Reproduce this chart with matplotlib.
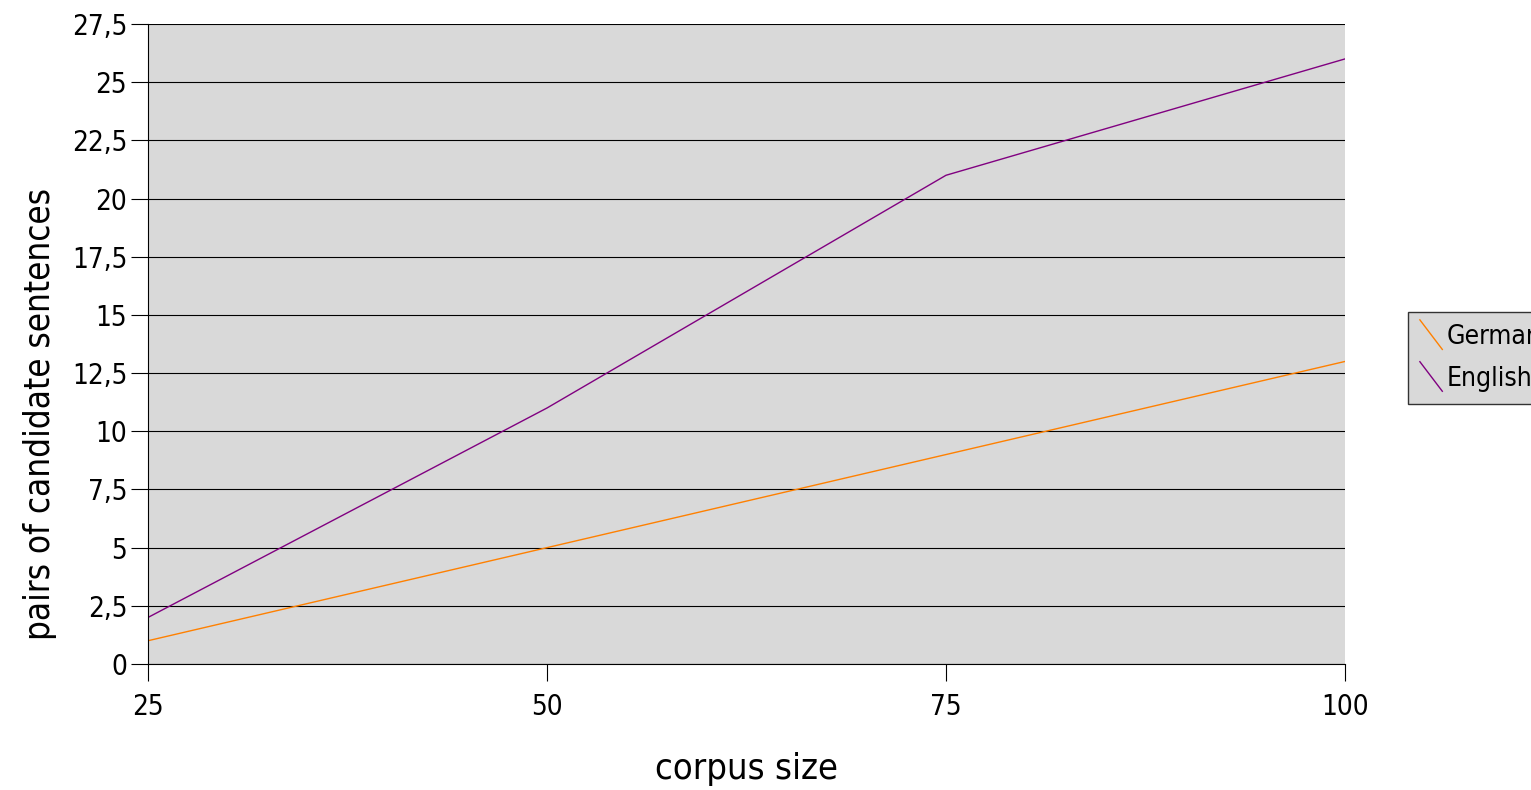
import matplotlib
matplotlib.use("Agg")
import matplotlib.pyplot as plt
from matplotlib.lines import Line2D
from matplotlib.ticker import FuncFormatter

corpus_size = [25, 50, 75, 100]
german = [1, 5, 9, 13]
english = [2, 11, 21, 26]
y_ticks = [0, 2.5, 5, 7.5, 10, 12.5, 15, 17.5, 20, 22.5, 25, 27.5]

plt.rcParams['font.family'] = 'DejaVu Sans'
plt.rcParams['font.stretch'] = 'condensed'


class DiagonalHandler:
    # legend key drawn as a diagonal stroke, like office charts do
    def legend_artist(self, legend, orig_handle, fontsize, handlebox):
        x0, y0 = handlebox.xdescent, handlebox.ydescent
        w, h = handlebox.width, handlebox.height
        line = Line2D([x0, x0 + w], [y0 + h * 1.3, y0 - h * 0.3],
                      color=orig_handle.get_color(), lw=1.0)
        handlebox.add_artist(line)
        return line


fig = plt.figure(figsize=(15.31, 7.90), dpi=100)
ax = fig.add_axes([148 / 1531, 126 / 790, 1197 / 1531, 640 / 790])
ax.set_facecolor('#d9d9d9')

l_de, = ax.plot(corpus_size, german, color='#ff8000', lw=1.0, label='German')
l_en, = ax.plot(corpus_size, english, color='#800080', lw=1.0, label='English')

ax.set_xlim(25, 100)
ax.set_ylim(0, 27.5)
ax.set_xticks(corpus_size)
ax.set_yticks(y_ticks)
ax.yaxis.set_major_formatter(FuncFormatter(lambda v, p: ('%g' % v).replace('.', ',')))
ax.grid(axis='y', color='black', lw=0.8)
ax.set_axisbelow(True)
for s in ['top', 'right']:
    ax.spines[s].set_visible(False)
ax.spines['left'].set_linewidth(0.8)
ax.spines['bottom'].set_linewidth(0.8)
ax.tick_params(axis='both', labelsize=20, length=12, width=0.8, direction='out')
ax.tick_params(axis='x', pad=9)
ax.tick_params(axis='y', pad=3)

ax.set_xlabel('corpus size', fontsize=26, labelpad=22)
ax.set_ylabel('pairs of candidate sentences', fontsize=25)
ax.yaxis.set_label_coords(-0.076, 0.39)

leg = fig.legend(handles=[l_de, l_en], loc='upper left',
                 bbox_to_anchor=(1408 / 1531, 1 - 312 / 790),
                 handler_map={Line2D: DiagonalHandler()},
                 fontsize=19, frameon=True, fancybox=False,
                 handlelength=0.85, handletextpad=0.15, borderpad=0.45,
                 labelspacing=0.6, borderaxespad=0)
leg.get_frame().set_facecolor('#d9d9d9')
leg.get_frame().set_edgecolor('#333333')
leg.get_frame().set_linewidth(1.0)
leg.get_frame().set_alpha(1)

fig.savefig('out.png', dpi=100)
